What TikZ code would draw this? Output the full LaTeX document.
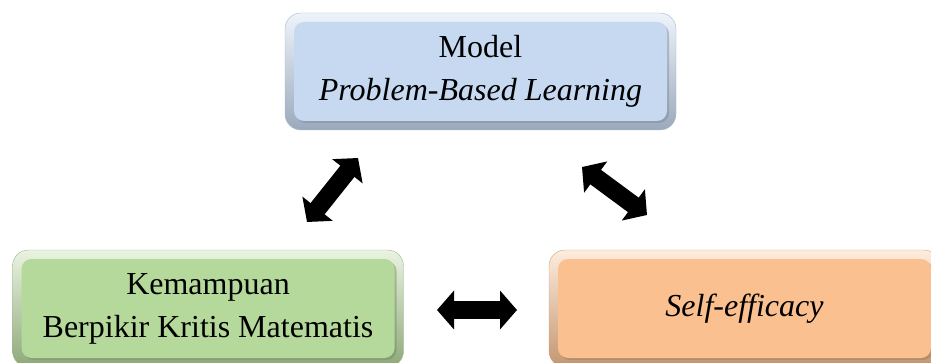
\documentclass[tikz,border=0pt]{standalone}
\usepackage{fontspec}
\setmainfont{Liberation Serif}
\usetikzlibrary{arrows.meta}

\definecolor{pblblue}{HTML}{C6D9F1}
\definecolor{kbkgreen}{HTML}{B5D89B}
\definecolor{seorange}{HTML}{FBC08F}

\tikzset{
  bevelbox/.style={rounded corners=16pt, minimum width=391pt, minimum height=117pt,
    top color=#1!30!white, bottom color=#1!78!black, draw=#1!60!gray, thin,
    path picture={
      \fill[#1!65!black, opacity=.5, rounded corners=10pt]
        ([shift={(11pt,7pt)}]path picture bounding box.south west) rectangle
        ([shift={(-7pt,-11pt)}]path picture bounding box.north east);
      \fill[#1, rounded corners=10pt]
        ([shift={(9pt,9pt)}]path picture bounding box.south west) rectangle
        ([shift={(-9pt,-9pt)}]path picture bounding box.north east);
    }},
  bigarrow/.style={line width=18pt,
    {Triangle[length=17pt,width=38pt]}-{Triangle[length=17pt,width=38pt]}}
}

\begin{document}
\begin{tikzpicture}[x=1pt, y=1pt, every node/.append style={align=center, font=\fontsize{32}{43}\selectfont}]

  \clip (0,0) rectangle (931,362);

  % the three boxes
  \node [bevelbox=pblblue] (pbl) at (480.5, 290.5) {Model\\\textit{Problem-Based Learning}};
  \node [bevelbox=kbkgreen] (kbkm) at (208, 53.5) {Kemampuan\\Berpikir Kritis Matematis};
  \node [bevelbox=seorange] (se) at (744.5, 53.5) {\textit{Self-efficacy}};

  % arrow ends
  \coordinate (kbkm-a) at (307, 140);
  \coordinate (pbl-a)  at (358, 204);
  \coordinate (pbl-b)  at (582, 195);
  \coordinate (se-b)   at (647, 147);
  \coordinate (kbkm-c) at (437, 52);
  \coordinate (se-c)   at (517, 52);

  \draw [bigarrow] (kbkm-a) -- (pbl-a);
  \draw [bigarrow] (pbl-b) -- (se-b);
  \draw [bigarrow] (kbkm-c) -- (se-c);

\end{tikzpicture}
\end{document}
